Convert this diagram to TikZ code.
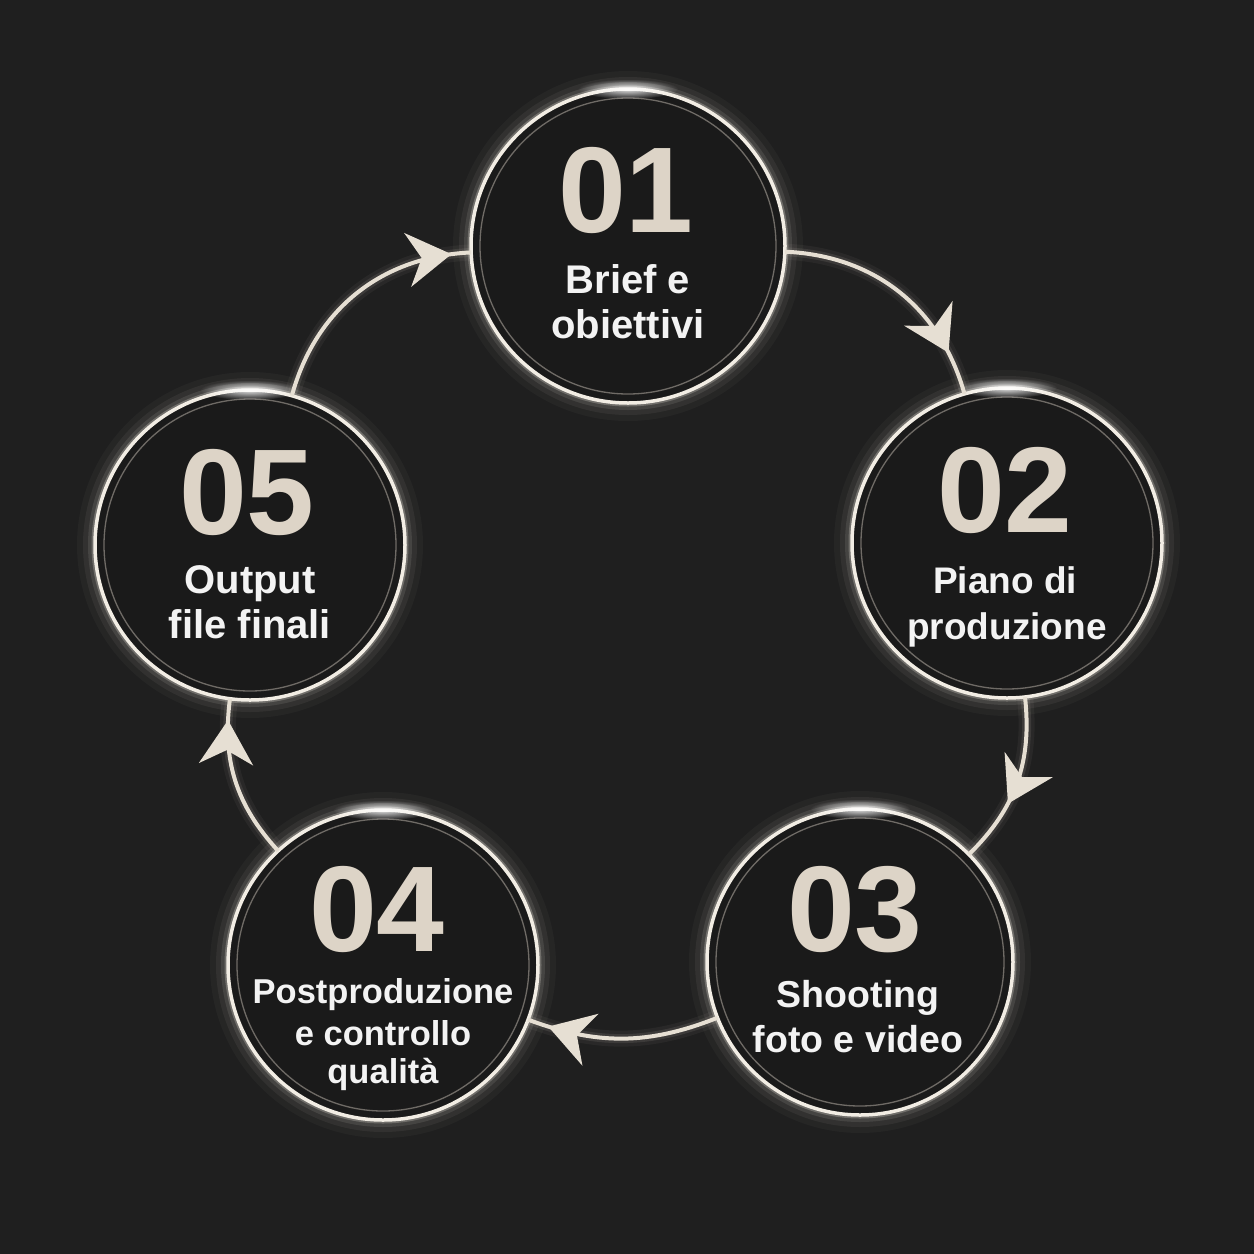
\documentclass[tikz,border=0pt]{standalone}
\usepackage{fontspec}
\setmainfont{Liberation Sans}
\usetikzlibrary{arrows.meta,decorations.markings,fadings}
\definecolor{bg}{HTML}{1F1F1F}
\definecolor{disc}{HTML}{1A1A1A}
\definecolor{ring}{HTML}{F2EDE4}
\definecolor{cream}{HTML}{E6DFD3}
\definecolor{digit}{HTML}{DDD4C7}
\definecolor{innerring}{HTML}{6F6B66}
\definecolor{labeltext}{HTML}{F3F3F3}
\tikzfading[name=softglow, inner color=transparent!0, outer color=transparent!100]
\tikzset{
  stage/.style={circle, minimum size=#1, inner sep=0pt, outer sep=0pt,
    fill=disc, draw=ring, line width=3.5pt,
    preaction={draw=ring, line width=36pt, draw opacity=0.035},
    preaction={draw=ring, line width=24pt, draw opacity=0.06},
    preaction={draw=ring, line width=14pt, draw opacity=0.1},
    preaction={draw=ring, line width=7pt, draw opacity=0.25}},
  flow/.style={draw=cream, line width=4pt,
    preaction={draw=cream, line width=16pt, draw opacity=0.05},
    preaction={draw=cream, line width=9pt, draw opacity=0.1}},
  arrowat/.style={postaction={decorate, decoration={markings,
    mark=at position #1 with {\arrow[cream]{Stealth[length=44pt,width=54pt,inset=14pt]}}}}},
  num/.style={text=digit, inner sep=0pt, anchor=center, font=\fontsize{122}{122}\selectfont\bfseries},
  lab/.style={text=labeltext, inner sep=0pt, anchor=base, font=\fontsize{#1}{#1}\selectfont\bfseries},
  inring/.style={draw=innerring, line width=1.3pt}
}
\begin{document}
\begin{tikzpicture}[x=1pt,y=-1pt]
\fill[bg] (0,0) rectangle (1254,1254);
\useasboundingbox (0,0) rectangle (1254,1254);

% circles
\node[stage=314pt] (s1) at (628,246) {};
\node[stage=310pt] (s2) at (1007,543) {};
\node[stage=306pt] (s3) at (860,962) {};
\node[stage=310pt] (s4) at (383,965) {};
\node[stage=310pt] (s5) at (250,545) {};

\draw[inring] (s1.center) circle (148);
\draw[inring] (s2.center) circle (146);
\draw[inring] (s3.center) circle (144);
\draw[inring] (s4.center) circle (146);
\draw[inring] (s5.center) circle (146);

% highlights at the top of rings
\foreach \s in {s1,s2,s3,s4,s5}{
  \fill[white, path fading=softglow, fill opacity=0.9] (\s.north) ellipse (50 and 10);
}

% connectors
\draw[flow, arrowat=0.82] (s1) to[bend left=36] (s2);
\draw[flow, arrowat=0.63] (s2) to[bend left=26] (s3);
\draw[flow, arrowat=0.89] (s3) to[bend left=21] (s4);
\draw[flow, arrowat=0.87] (s4) to[bend left=25] (s5);
\draw[flow, arrowat=0.92] (s5) to[bend left=36] (s1);

% numbers
\node[num] (d1) at (626,190) {01};
\node[num] (d2) at (1005,490) {02};
\node[num] (d3) at (855,910) {03};
\node[num] (d4) at (377,909) {04};
\node[num] (d5) at (247,492) {05};

% labels
\node[lab=40] (l1a) at (628,293) {Brief e};
\node[lab=40] (l1b) at (628,338) {obiettivi};
\node[lab=37] (l2a) at (1005,593) {Piano di};
\node[lab=37] (l2b) at (1007,639) {produzione};
\node[lab=37.5] (l3a) at (858,1007) {Shooting};
\node[lab=37.5] (l3b) at (858,1052) {foto e video};
\node[lab=34.5] (l4a) at (383,1003) {Postproduzione};
\node[lab=34.5] (l4b) at (383,1045) {e controllo};
\node[lab=34.5] (l4c) at (383,1083) {qualità};
\node[lab=40] (l5a) at (250,593) {Output};
\node[lab=40] (l5b) at (250,638) {file finali};
\end{tikzpicture}
\end{document}
